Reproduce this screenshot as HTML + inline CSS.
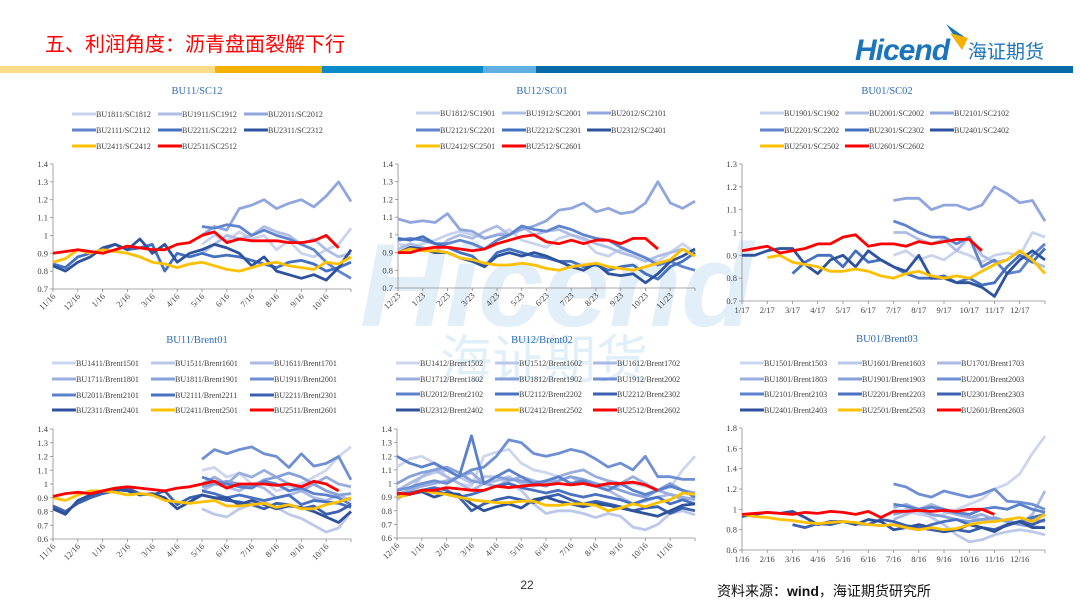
<!DOCTYPE html>
<html><head><meta charset="utf-8">
<style>
html,body{margin:0;padding:0;background:#fff;}
svg{display:block;}
.ax{font-family:"Liberation Serif","Noto Serif CJK SC",serif;font-size:8.5px;fill:#404040;}
.lg{font-family:"Liberation Serif","Noto Serif CJK SC",serif;font-size:8px;fill:#404040;}
.tt{font-family:"Liberation Serif","Noto Serif CJK SC",serif;font-size:10.5px;fill:#2e6db4;}
</style></head>
<body>
<svg id="page" width="1080" height="607" viewBox="0 0 1080 607" xmlns="http://www.w3.org/2000/svg">
  <g>
    <text x="360" y="326" font-family="Liberation Sans, sans-serif" font-weight="bold" font-style="italic" font-size="118" fill="#cfe5f4" opacity="0.6">Hicend</text>
    <text x="440" y="378" font-family="Liberation Sans, Noto Sans CJK SC, sans-serif" font-size="52" fill="#d5eaf6" opacity="0.7">海证期货</text>
  </g>
  <text x="45" y="51" font-family="Liberation Sans, Noto Sans CJK SC, sans-serif" font-size="20" fill="#ff0000">五、利润角度：沥青盘面裂解下行</text>
  <g>
    <polygon points="946,24 966,38 961,46" fill="#1b75bc"/>
    <polygon points="950,33 968,38 962,50" fill="#f5b000"/>
    <text x="855" y="60" font-family="Liberation Sans, sans-serif" font-weight="bold" font-style="italic" font-size="30" fill="#1b75bc" letter-spacing="-1">Hicend</text>
    <text x="968" y="58" font-family="Liberation Sans, Noto Sans CJK SC, sans-serif" font-size="19" fill="#1b75bc">海证期货</text>
  </g>
  <g>
    <rect x="0" y="66" width="215" height="7" fill="#fbdc8a"/>
    <rect x="215" y="66" width="107" height="7" fill="#f5b000"/>
    <rect x="322" y="66" width="161" height="7" fill="#0a8bc8"/>
    <rect x="483" y="66" width="53" height="7" fill="#5fafe0"/>
    <rect x="536" y="66" width="537" height="7" fill="#0a6aa8"/>
  </g>
  <g id="charts"></g>
  <text x="527" y="589" font-family="Liberation Sans, sans-serif" font-size="12" fill="#333" text-anchor="middle">22</text>
  <text x="717" y="596" font-family="Liberation Sans, Noto Sans CJK SC, sans-serif" font-size="14" fill="#111">资料来源：<tspan font-weight="bold">wind</tspan>，海证期货研究所</text>
</svg>
<script>
// ---------- Chart 1: BU11/SC12 ----------
const c1Labels = ["11/16","12/16","1/16","2/16","3/16","4/16","5/16","6/16","7/16","8/16","9/16","10/16"];
const c1Ticks = [0.7,0.8,0.9,1,1.1,1.2,1.3,1.4];
const c1Names = ["BU1811/SC1812","BU1911/SC1912","BU2011/SC2012","BU2111/SC2112","BU2211/SC2212","BU2311/SC2312","BU2411/SC2412","BU2511/SC2512"];
const c1Start = [12,12,12,12,0,0,0,0];
const c1Series = [
 [0.95,1.0,0.97,1.02,0.98,1.0,0.92,0.97,0.9,0.88,0.92,0.95,1.04],
 [0.9,0.95,1.0,0.98,1.0,1.05,1.02,1.0,0.95,0.98,0.92,0.88,0.9],
 [1.0,1.05,1.03,1.15,1.17,1.2,1.15,1.18,1.2,1.16,1.22,1.3,1.19],
 [1.05,1.04,1.06,1.05,1.0,1.03,1.0,0.98,0.95,0.92,0.85,0.8,0.76],
 [0.84,0.82,0.88,0.9,0.92,0.95,0.92,0.93,0.95,0.8,0.9,0.88,0.9,0.88,0.89,0.88,0.86,0.84,0.82,0.85,0.86,0.84,0.8,0.82,0.85],
 [0.83,0.8,0.85,0.88,0.93,0.95,0.92,0.98,0.9,0.95,0.85,0.9,0.92,0.95,0.93,0.9,0.83,0.88,0.8,0.78,0.76,0.78,0.75,0.82,0.92],
 [0.85,0.87,0.92,0.9,0.92,0.91,0.9,0.88,0.85,0.84,0.82,0.84,0.85,0.83,0.81,0.8,0.82,0.84,0.85,0.83,0.82,0.81,0.85,0.84,0.88],
 [0.9,0.91,0.92,0.91,0.9,0.92,0.94,0.93,0.92,0.92,0.95,0.96,1.0,1.02,0.96,0.98,0.97,0.97,0.97,0.96,0.96,0.97,1.0,0.93]
];
// ---------- Chart 2: BU12/SC01 ----------
const c2Labels = ["12/23","1/23","2/23","3/23","4/23","5/23","6/23","7/23","8/23","9/23","10/23","11/23"];
const c2Ticks = [0.7,0.8,0.9,1,1.1,1.2,1.3,1.4];
const c2Names = ["BU1812/SC1901","BU1912/SC2001","BU2012/SC2101","BU2121/SC2201","BU2212/SC2301","BU2312/SC2401","BU2412/SC2501","BU2512/SC2601"];
const c2Start = [0,0,0,0,0,0,0,0];
const c2Series = [
 [0.95,0.93,0.95,0.97,1.0,1.02,1.0,0.98,1.0,1.03,0.97,0.95,0.93,0.98,1.0,0.97,0.9,0.88,0.92,0.9,0.87,0.85,0.9,0.95,0.9],
 [0.92,0.95,0.93,0.9,0.97,1.0,0.98,1.02,1.05,1.0,1.05,1.0,1.02,1.03,1.0,0.98,0.95,0.93,0.9,0.88,0.85,0.88,0.9,0.92,0.88],
 [1.09,1.07,1.08,1.07,1.12,1.03,1.02,0.98,1.0,1.0,1.03,1.05,1.08,1.14,1.15,1.18,1.13,1.15,1.12,1.13,1.18,1.3,1.18,1.15,1.19],
 [0.97,0.98,0.97,0.95,0.95,0.97,0.95,0.92,0.97,1.0,1.05,1.03,1.02,1.05,1.03,1.0,0.98,0.97,0.93,0.9,0.87,0.83,0.85,0.82,0.8],
 [0.98,0.97,0.99,0.95,0.93,0.9,0.88,0.82,0.9,0.92,0.9,0.88,0.87,0.85,0.85,0.82,0.83,0.8,0.82,0.83,0.78,0.75,0.82,0.85,0.9],
 [0.9,0.93,0.92,0.9,0.9,0.87,0.85,0.82,0.88,0.9,0.88,0.9,0.88,0.85,0.82,0.8,0.84,0.78,0.77,0.78,0.73,0.78,0.85,0.88,0.92],
 [0.9,0.92,0.91,0.91,0.9,0.87,0.86,0.84,0.83,0.83,0.84,0.83,0.81,0.8,0.82,0.83,0.84,0.82,0.81,0.8,0.82,0.84,0.86,0.92,0.88],
 [0.9,0.9,0.92,0.93,0.93,0.92,0.91,0.92,0.95,0.97,0.99,1.0,0.96,0.95,0.97,0.95,0.97,0.97,0.95,0.98,0.98,0.92]
];
// ---------- Chart 3: BU01/SC02 ----------
const c3Labels = ["1/17","2/17","3/17","4/17","5/17","6/17","7/17","8/17","9/17","10/17","11/17","12/17"];
const c3Ticks = [0.7,0.8,0.9,1,1.1,1.2,1.3];
const c3Names = ["BU1901/SC1902","BU2001/SC2002","BU2101/SC2102","BU2201/SC2202","BU2301/SC2302","BU2401/SC2402","BU2501/SC2502","BU2601/SC2602"];
const c3Start = [12,12,12,12,4,0,2,0];
const c3Series = [
 [0.9,0.92,0.88,0.9,0.88,0.92,0.9,0.87,0.9,0.91,0.9,1.0,0.98],
 [1.0,1.0,0.97,0.95,0.97,0.92,0.98,0.9,0.87,0.88,0.92,0.87,0.85],
 [1.14,1.15,1.15,1.1,1.12,1.12,1.1,1.12,1.2,1.17,1.13,1.14,1.05],
 [1.05,1.03,1.0,0.98,0.98,0.95,0.98,0.85,0.88,0.82,0.83,0.9,0.95],
 [0.82,0.87,0.9,0.9,0.85,0.92,0.87,0.88,0.85,0.82,0.8,0.8,0.81,0.78,0.8,0.77,0.78,0.85,0.9,0.87,0.93],
 [0.9,0.9,0.92,0.93,0.93,0.86,0.82,0.88,0.9,0.85,0.92,0.88,0.85,0.83,0.9,0.8,0.8,0.78,0.78,0.76,0.72,0.82,0.88,0.92,0.88],
 [0.89,0.9,0.87,0.86,0.85,0.83,0.83,0.84,0.83,0.81,0.8,0.82,0.83,0.81,0.8,0.81,0.8,0.83,0.86,0.88,0.92,0.88,0.82],
 [0.92,0.93,0.94,0.91,0.92,0.93,0.95,0.95,0.98,0.99,0.94,0.95,0.95,0.94,0.96,0.95,0.96,0.97,0.97,0.92]
];
// ---------- Chart 4: BU11/Brent01 ----------
const c4Labels = ["11/16","12/16","1/16","2/16","3/16","4/16","5/16","6/16","7/16","8/16","9/16","10/16"];
const c4Ticks = [0.6,0.7,0.8,0.9,1,1.1,1.2,1.3,1.4];
const c4Names = ["BU1411/Brent1501","BU1511/Brent1601","BU1611/Brent1701","BU1711/Brent1801","BU1811/Brent1901","BU1911/Brent2001","BU2011/Brent2101","BU2111/Brent2211","BU2211/Brent2301","BU2311/Brent2401","BU2411/Brent2501","BU2511/Brent2601"];
const c4Start = [12,12,12,12,12,12,12,12,0,0,0,0];
const c4Series = [
 [1.1,1.12,1.05,1.08,1.0,1.02,0.95,0.98,1.0,1.05,1.1,1.2,1.27],
 [0.82,0.78,0.76,0.82,0.85,0.87,0.83,0.78,0.75,0.7,0.65,0.68,0.8],
 [0.95,1.0,0.98,0.95,1.0,0.97,0.9,0.92,0.95,0.9,0.88,0.92,0.88],
 [1.0,1.05,1.0,1.08,1.05,1.1,1.05,1.0,0.95,1.0,1.05,1.0,0.98],
 [0.98,1.0,1.02,1.0,0.98,1.03,1.05,1.08,1.05,1.0,0.95,0.92,0.93],
 [1.18,1.25,1.22,1.25,1.27,1.22,1.2,1.12,1.22,1.13,1.15,1.2,1.03],
 [1.05,1.02,1.0,0.98,0.97,1.02,1.0,0.95,0.97,0.93,0.92,0.9,0.85],
 [0.95,0.93,0.9,0.92,0.9,0.88,0.9,0.92,0.85,0.88,0.87,0.86,0.83],
 [0.84,0.8,0.86,0.9,0.93,0.95,0.97,0.93,0.92,0.95,0.85,0.9,0.92,0.9,0.88,0.87,0.85,0.82,0.86,0.85,0.82,0.84,0.78,0.8,0.85],
 [0.82,0.78,0.88,0.92,0.95,0.96,0.95,0.92,0.93,0.9,0.82,0.87,0.92,0.9,0.9,0.85,0.88,0.85,0.82,0.84,0.83,0.8,0.76,0.72,0.8],
 [0.9,0.88,0.92,0.95,0.95,0.94,0.92,0.93,0.92,0.88,0.87,0.86,0.87,0.88,0.84,0.84,0.85,0.86,0.83,0.85,0.82,0.82,0.85,0.87,0.9],
 [0.91,0.93,0.94,0.93,0.95,0.97,0.98,0.97,0.96,0.95,0.97,0.98,1.0,1.02,0.97,1.0,1.0,1.0,0.99,1.0,0.98,1.02,1.0,0.95]
];
// ---------- Chart 5: BU12/Brent02 ----------
const c5Labels = ["12/16","1/16","2/16","3/16","4/16","5/16","6/16","7/16","8/16","9/16","10/16","11/16"];
const c5Ticks = [0.6,0.7,0.8,0.9,1,1.1,1.2,1.3,1.4];
const c5Names = ["BU1412/Brent1502","BU1512/Brent1602","BU1612/Brent1702","BU1712/Brent1802","BU1812/Brent1902","BU1912/Brent2002","BU2012/Brent2102","BU2112/Brent2202","BU2212/Brent2302","BU2312/Brent2402","BU2412/Brent2502","BU2512/Brent2602"];
const c5Start = [0,0,0,0,0,0,0,0,0,0,0,0];
const c5Series = [
 [1.12,1.18,1.2,1.15,1.05,1.0,0.98,1.2,1.23,1.25,1.15,1.1,1.08,1.05,1.0,1.03,1.0,0.95,0.98,1.0,0.98,0.95,0.97,1.1,1.2],
 [0.88,0.95,1.05,1.08,1.1,1.05,1.0,1.05,1.05,1.0,0.95,0.85,0.78,0.8,0.8,0.78,0.75,0.78,0.76,0.68,0.66,0.7,0.78,0.8,0.77],
 [0.95,1.0,1.05,1.1,1.05,1.0,0.95,1.0,1.02,1.05,1.0,0.98,1.0,1.02,1.05,1.0,0.98,0.95,0.9,0.85,0.87,0.9,0.92,0.88,0.9],
 [0.92,0.95,0.98,1.0,1.02,1.05,1.08,1.0,0.98,1.02,1.05,1.02,1.0,1.05,1.08,1.1,1.05,1.02,1.0,1.05,1.0,0.95,0.92,0.9,0.88],
 [1.0,1.05,1.08,1.1,1.12,1.08,1.02,1.0,1.05,1.03,1.02,1.0,0.98,1.02,1.05,1.03,1.0,0.98,0.95,0.92,0.9,0.95,1.0,0.95,0.93],
 [0.95,0.97,1.0,1.02,1.0,1.05,1.1,1.12,1.2,1.32,1.3,1.22,1.2,1.22,1.25,1.23,1.18,1.12,1.15,1.1,1.2,1.05,1.05,1.03,1.03],
 [1.2,1.15,1.12,1.15,1.1,1.05,1.35,1.0,1.05,1.1,1.05,1.0,1.02,1.05,1.0,1.02,0.98,0.95,1.0,0.95,0.92,0.95,0.98,0.95,0.9],
 [0.9,0.92,0.95,0.97,0.95,0.9,0.92,0.95,0.98,1.0,0.97,0.95,0.93,0.95,0.92,0.9,0.92,0.9,0.88,0.85,0.88,0.9,0.85,0.88,0.85],
 [0.92,0.93,0.95,0.95,0.92,0.9,0.8,0.85,0.88,0.9,0.88,0.86,0.9,0.92,0.88,0.85,0.87,0.85,0.83,0.8,0.82,0.83,0.78,0.82,0.8],
 [0.9,0.92,0.94,0.9,0.93,0.92,0.85,0.8,0.83,0.85,0.82,0.88,0.9,0.87,0.85,0.83,0.85,0.84,0.82,0.8,0.78,0.76,0.8,0.84,0.85],
 [0.9,0.92,0.95,0.93,0.92,0.9,0.88,0.87,0.86,0.86,0.87,0.87,0.84,0.84,0.85,0.85,0.84,0.8,0.82,0.85,0.83,0.86,0.88,0.93,0.92],
 [0.93,0.92,0.95,0.95,0.97,0.96,0.95,0.95,0.98,0.97,0.98,0.99,0.99,1.0,0.99,1.0,0.98,1.0,1.0,1.01,0.99,0.95]
];
// ---------- Chart 6: BU01/Brent03 ----------
const c6Labels = ["1/16","2/16","3/16","4/16","5/16","6/16","7/16","8/16","9/16","10/16","11/16","12/16"];
const c6Ticks = [0.6,0.8,1,1.2,1.4,1.6,1.8];
const c6Names = ["BU1501/Brent1503","BU1601/Brent1603","BU1701/Brent1703","BU1801/Brent1803","BU1901/Brent1903","BU2001/Brent2003","BU2101/Brent2103","BU2201/Brent2203","BU2301/Brent2303","BU2401/Brent2403","BU2501/Brent2503","BU2601/Brent2603"];
const c6Start = [12,12,12,12,12,12,12,12,4,0,0,0];
const c6Series = [
 [1.0,0.98,0.95,0.93,0.95,1.0,1.05,1.1,1.2,1.25,1.35,1.55,1.72],
 [0.95,1.0,0.98,0.92,0.85,0.75,0.68,0.7,0.75,0.78,0.8,0.78,0.75],
 [0.9,0.95,1.0,1.05,1.0,0.95,0.92,0.9,0.88,0.9,0.85,0.95,1.18],
 [1.02,1.05,1.0,1.03,0.98,0.95,0.92,0.95,0.9,0.88,0.85,0.9,0.88],
 [0.95,0.98,1.0,0.95,0.93,0.9,0.88,0.9,0.92,0.88,0.85,0.83,0.82],
 [1.25,1.22,1.15,1.12,1.18,1.15,1.12,1.15,1.2,1.08,1.07,1.05,1.0],
 [1.05,1.03,1.0,1.02,1.0,0.97,0.95,1.0,1.02,1.0,1.05,1.0,0.97],
 [0.85,0.82,0.8,0.85,0.88,0.9,0.85,0.82,0.8,0.85,0.88,0.92,0.95],
 [0.85,0.82,0.86,0.85,0.88,0.86,0.85,0.9,0.88,0.84,0.82,0.8,0.78,0.8,0.78,0.82,0.8,0.84,0.88,0.85,0.9],
 [0.93,0.95,0.97,0.96,0.98,0.92,0.85,0.88,0.88,0.85,0.9,0.88,0.8,0.82,0.85,0.82,0.78,0.8,0.85,0.82,0.78,0.85,0.88,0.82,0.82],
 [0.95,0.93,0.92,0.9,0.89,0.87,0.86,0.87,0.88,0.87,0.85,0.84,0.85,0.82,0.8,0.82,0.8,0.81,0.85,0.87,0.88,0.9,0.92,0.88,0.95],
 [0.95,0.96,0.97,0.96,0.95,0.97,0.96,0.98,0.97,0.95,0.98,0.92,0.98,0.98,0.99,0.98,0.99,0.98,1.0,1.0,0.95]
];

const NPTS = 25;
const blues6 = ['#c9d3ed','#aebde6','#8fa7de','#5f83cd','#4470c0','#2d529e'];
const blues10 = ['#cdd6ee','#bcc8ea','#abbae4','#99addf','#86a0da','#6f8fd4','#5b80cc','#4a70c2','#3c61b1','#2e519c'];

const charts = [
 {id:'bu11-sc12', title:'BU11/SC12', tx:197, ty:94, L:53, R:351, T:164, B:289, labels:c1Labels, ticks:c1Ticks, names:c1Names, start:c1Start, series:c1Series, rot:true, lgRows:[114,130,146], lgCols:[72,158,244]},
 {id:'bu12-sc01', title:'BU12/SC01', tx:542, ty:94, L:398, R:695, T:164, B:288, labels:c2Labels, ticks:c2Ticks, names:c2Names, start:c2Start, series:c2Series, rot:true, lgRows:[113,130,146], lgCols:[416,502,587]},
 {id:'bu01-sc02', title:'BU01/SC02', tx:887, ty:94, L:742, R:1045, T:164, B:301, labels:c3Labels, ticks:c3Ticks, names:c3Names, start:c3Start, series:c3Series, rot:false, lgRows:[113,130,146], lgCols:[760,845,930]},
 {id:'bu11-brent01', title:'BU11/Brent01', tx:197, ty:343, L:53, R:351, T:429, B:539, labels:c4Labels, ticks:c4Ticks, names:c4Names, start:c4Start, series:c4Series, rot:true, lgRows:[363,379,395,410], lgCols:[52,151,250]},
 {id:'bu12-brent02', title:'BU12/Brent02', tx:542, ty:343, L:397, R:695, T:429, B:538, labels:c5Labels, ticks:c5Ticks, names:c5Names, start:c5Start, series:c5Series, rot:true, lgRows:[363,379,394,410], lgCols:[396,495,593]},
 {id:'bu01-brent03', title:'BU01/Brent03', tx:887, ty:342, L:742, R:1045, T:428, B:550, labels:c6Labels, ticks:c6Ticks, names:c6Names, start:c6Start, series:c6Series, rot:false, lgRows:[363,379,394,410], lgCols:[740,838,937]}
];

const NS = 'http://www.w3.org/2000/svg';
function mk(tag, attrs, parent){
  const e = document.createElementNS(NS, tag);
  for (const k in attrs) e.setAttribute(k, attrs[k]);
  if (parent) parent.appendChild(e);
  return e;
}
const root = document.getElementById('charts');

charts.forEach(c => {
  const g = mk('g', {}, root);
  
  
  const yMin = c.ticks[0], yMax = c.ticks[c.ticks.length-1];
  const yS = v => c.B - (v - yMin) / (yMax - yMin) * (c.B - c.T);
  const xS = i => c.L + i / (NPTS - 1) * (c.R - c.L);
  const n = c.names.length;
  const blues = n > 8 ? blues10 : blues6;
  const colorOf = k => k === n-2 ? '#ffc000' : (k === n-1 ? '#ff0000' : blues[k]);

  const t = mk('text', {x:c.tx, y:c.ty, 'text-anchor':'middle', class:'tt'}, g);
  t.textContent = c.title;
  
  

  c.names.forEach((nm, k) => {
    const row = Math.floor(k / 3), col = k % 3;
    const lx = c.lgCols[col], ly = c.lgRows[row];
    const lg = mk('g', {}, g);
    
    
    mk('line', {x1:lx, y1:ly, x2:lx+24, y2:ly, stroke:colorOf(k), 'stroke-width':3}, lg);
    const tx = mk('text', {x:lx+24, y:ly+3, class:'lg'}, lg);
    tx.textContent = nm;
  });

  const ax = mk('g', {stroke:'#8c8c8c', 'stroke-width':0.8}, g);
  
  
  mk('line', {x1:c.L, y1:c.T, x2:c.L, y2:c.B}, ax);
  mk('line', {x1:c.L, y1:c.B, x2:c.R, y2:c.B}, ax);
  c.ticks.forEach(v => {
    const y = yS(v);
    mk('line', {x1:c.L-3, y1:y, x2:c.L, y2:y}, ax);
    const tl = mk('text', {x:c.L-5, y:y+3, 'text-anchor':'end', class:'ax', stroke:'none'}, g);
    tl.textContent = (Math.round(v*10)/10).toString();
    
    
  });
  const step = (c.R - c.L) / c.labels.length;
  c.labels.forEach((lb, i) => {
    const x = c.L + i * step;
    mk('line', {x1:x, y1:c.B, x2:x, y2:c.B+3}, ax);
    let tl;
    if (c.rot) {
      tl = mk('text', {x:x+3, y:c.B+8, 'text-anchor':'end', class:'ax', transform:'rotate(-45 '+(x+3)+' '+(c.B+8)+')'}, g);
    } else {
      tl = mk('text', {x:x, y:c.B+12, 'text-anchor':'middle', class:'ax'}, g);
    }
    tl.textContent = lb;
    
    
  });
  mk('line', {x1:c.R, y1:c.B, x2:c.R, y2:c.B+3}, ax);

  c.series.forEach((vals, k) => {
    const pts = vals.map((v, j) => xS(c.start[k] + j).toFixed(1) + ',' + yS(v).toFixed(1)).join(' ');
    const pl = mk('polyline', {points:pts, fill:'none', stroke:colorOf(k), 'stroke-width':2.8, 'stroke-linejoin':'round'}, g);
    
    
  });
});
</script>
</body></html>
